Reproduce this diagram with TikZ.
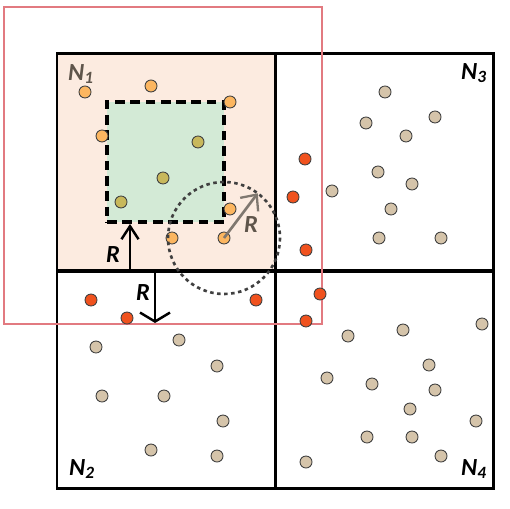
\documentclass[tikz,border=0pt]{standalone}
\usepackage{fontspec}
\setmainfont{Carlito}
\usetikzlibrary{arrows.meta, positioning, calc}
\definecolor{peach}{RGB}{252,235,224}
\definecolor{mint}{RGB}{211,234,214}
\definecolor{ptorange}{RGB}{252,182,96}
\definecolor{ptolive}{RGB}{200,184,92}
\definecolor{pttan}{RGB}{213,196,170}
\definecolor{ptred}{RGB}{240,82,30}
\definecolor{rimred}{RGB}{226,122,128}
\definecolor{labgray}{RGB}{95,85,75}
\begin{document}
\begin{tikzpicture}[x=0.02cm, y=-0.02cm,
    pt/.style={circle, draw=black!75, line width=0.5pt, minimum size=12*0.02cm, inner sep=0pt},
    orangept/.style={pt, fill=ptorange},
    olivept/.style={pt, fill=ptolive},
    tanpt/.style={pt, fill=pttan},
    redpt/.style={pt, fill=ptred},
    cell/.style={draw, line width=1.4pt, minimum size=218*0.02cm, inner sep=0pt},
    lab/.style={font=\fontsize{14}{14}\selectfont\bfseries\itshape, inner sep=0pt},
    rlab/.style={font=\fontsize{14}{14}\selectfont\bfseries\itshape, inner sep=0pt},
    arrow/.style={line width=1.6pt, -{Straight Barb[length=3mm, width=5mm, line width=1.4pt]}}
]
\useasboundingbox (0,0) rectangle (509,509);
% Four cells
\node[cell, fill=peach] (n1) at (166,162.5) {};
\node[cell] (n3) at (384.5,162.5) {};
\node[cell] (n2) at (166,379.5) {};
\node[cell] (n4) at (384.5,379.5) {};
\node[lab, text=labgray] (l1) at (81,74) {N\textsubscript{1}};
\node[lab] (l3) at (474,73) {N\textsubscript{3}};
\node[lab] (l2) at (82,469) {N\textsubscript{2}};
\node[lab] (l4) at (474,469) {N\textsubscript{4}};
% Inner dashed block
\node[draw, fill=mint, line width=2.2pt, dash pattern=on 5.5pt off 3.2pt,
      minimum width=117*0.02cm, minimum height=120*0.02cm, inner sep=0pt] (core) at (165.5,162) {};
% Outer red frame
\node[draw=rimred, line width=0.8pt, minimum width=318*0.02cm, minimum height=317*0.02cm, inner sep=0pt] (halo) at (163,165.5) {};
% Points of N1
\foreach \x/\y [count=\i] in {85/92, 151/86, 230/102, 102/136, 230/209, 172/238}
  \node[orangept] (o\i) at (\x,\y) {};
\node[orangept] (q) at (224,238) {};
\foreach \x/\y [count=\i] in {198/142, 163/178, 121/202}
  \node[olivept] (v\i) at (\x,\y) {};
% Points near the borders
\foreach \x/\y [count=\i] in {305/159, 293/197, 306/250, 91/300, 127/318, 256/300, 320/294, 306/321}
  \node[redpt] (r\i) at (\x,\y) {};
% Points of N3
\foreach \x/\y [count=\i] in {385/92, 366/123, 435/117, 406/136, 378/172, 412/184, 332/191, 391/209, 379/238, 441/238}
  \node[tanpt] (a\i) at (\x,\y) {};
% Points of N2
\foreach \x/\y [count=\i] in {96/347, 179/340, 217/366, 102/396, 164/396, 223/421, 151/450, 217/456}
  \node[tanpt] (b\i) at (\x,\y) {};
% Points of N4
\foreach \x/\y [count=\i] in {348/336, 403/330, 482/324, 429/365, 327/378, 372/384, 435/390, 410/409, 476/421, 367/437, 412/437, 441/456, 306/462}
  \node[tanpt] (c\i) at (\x,\y) {};
% Search circle around q
\draw[black!75, line width=1.5pt, dash pattern=on 2pt off 2pt] (q.center) circle (56);
\coordinate (rim) at ($(q.center)+(-53:56)$);
\draw[labgray!80, line width=1.5pt, -{Straight Barb[length=2.5mm, width=4.5mm, line width=1.3pt]}] (q.center) -- (rim);
\node[rlab, text=labgray] (rq) at (251,225) {R};
% Margin arrows
\coordinate (up) at (130,271.5);
\draw[arrow, -{Straight Barb[length=2.6mm, width=3.4mm, line width=1.4pt]}] (up) -- (up |- core.south);
\node[rlab] (ru) at (113,255) {R};
\coordinate (dn) at (155,271.5);
\coordinate (dnend) at (155,323);
\draw[arrow, -{Straight Barb[length=1.8mm, width=6mm, line width=1.4pt]}] (dn) -- (dnend);
\node[rlab] (rd) at (143,293) {R};
\end{tikzpicture}
\end{document}
